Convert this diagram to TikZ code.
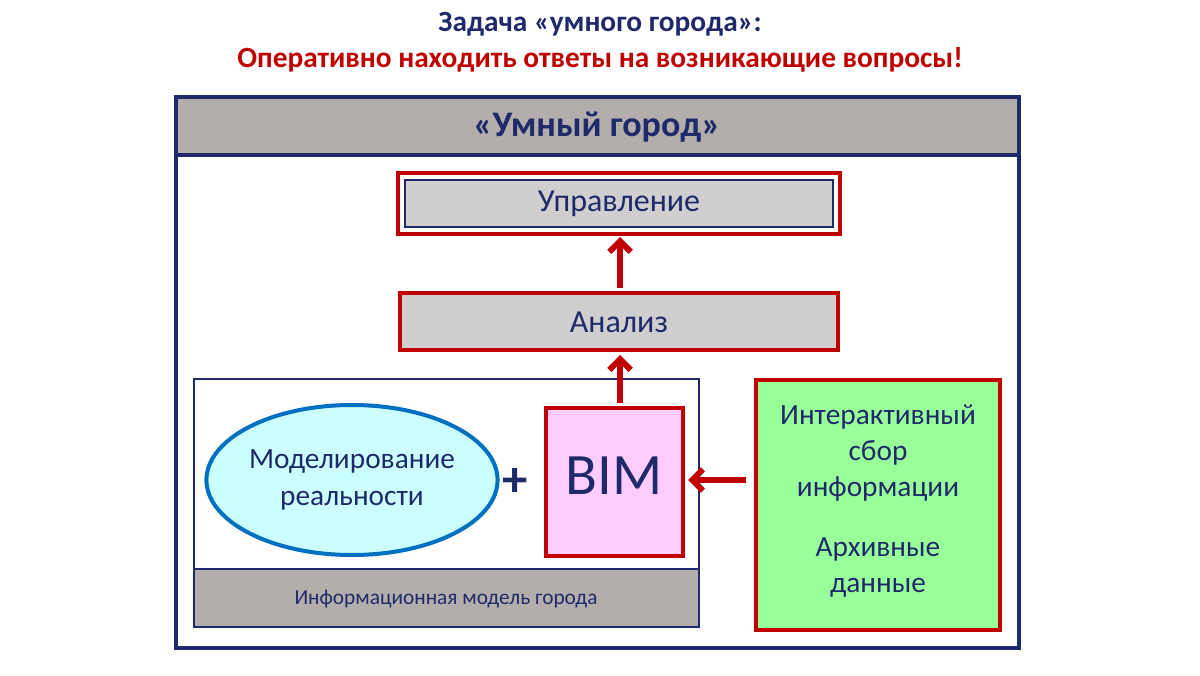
\documentclass[tikz,border=0pt]{standalone}
\usepackage{fontspec}
\setmainfont{Carlito}
\usetikzlibrary{arrows.meta,shapes.geometric}
\definecolor{navy}{HTML}{1F2A6B}
\definecolor{dred}{HTML}{C00000}
\definecolor{gr}{HTML}{B3AEAB}
\definecolor{lg}{HTML}{D0CECE}
\tikzset{
  redbox/.style={draw=dred,line width=3.5pt,fill=lg},
  arr/.style={draw=dred,line width=4.5pt,-{Straight Barb[length=8pt,width=16pt]}},
  txt/.style={text=navy,align=center,font=\fontsize{24}{28}\selectfont}
}
\begin{document}
\begin{tikzpicture}[x=0.75pt,y=-0.75pt]
\useasboundingbox (0,0) rectangle (1200,675);
\fill[white] (0,0) rectangle (1200,675);
\node[text=navy,font=\bfseries\fontsize{22}{26}\selectfont] (t1) at (600,24) {Задача «умного города»:};
\node[text=dred,font=\bfseries\fontsize{22}{26}\selectfont] (t2) at (600,60) {Оперативно находить ответы на возникающие вопросы!};
% outer frame
\draw[navy,line width=2.5pt] (176,97) rectangle (1019,648);
\filldraw[fill=gr,draw=navy,line width=2.5pt] (176,97) rectangle (1019,155);
\node[text=navy,font=\bfseries\fontsize{27}{30}\selectfont] (hd) at (597,127) {«Умный город»};
% Управление
\draw[dred,line width=3pt] (398,173) rectangle (840,234);
\filldraw[fill=lg,draw=navy,line width=1pt] (405,180) rectangle (833,227);
\node[txt] (upr) at (619,204) {Управление};
% Анализ
\draw[redbox] (400,293) rectangle (838,350);
\node[txt] (an) at (619,322) {Анализ};
\coordinate (anB) at (620,355);
\coordinate (anT) at (620,288);
\coordinate (upB) at (620,237);
\draw[arr] (anT) -- (upB);
% info model
\draw[navy,line width=1.5pt] (194,379) rectangle (699,627);
\filldraw[fill=gr,draw=navy,line width=1.5pt] (194,569) rectangle (699,627);
\node[text=navy,font=\fontsize{16}{18}\selectfont] (im) at (446,599) {Информационная модель города};
\node[ellipse,draw={rgb,255:red,0;green,112;blue,192},line width=3pt,fill={rgb,255:red,204;green,255;blue,255},minimum width=282pt*0.75,minimum height=150pt*0.75,inner sep=0pt,txt,font=\fontsize{22}{28}\selectfont] (el) at (352,480) {Моделирование\\реальности};
\node[text=navy,font=\bfseries\fontsize{38}{38}\selectfont] (pl) at (515,482) {+};
\filldraw[fill={rgb,255:red,255;green,204;blue,255},draw=dred,line width=3.5pt] (546,408) rectangle (683,556);
\node[text=navy,font=\fontsize{44}{46}\selectfont] (bim) at (614,476) {BIM};
\coordinate (bimT) at (620,403);
\draw[arr] (bimT) -- (anB);
% green
\filldraw[fill={rgb,255:red,153;green,255;blue,153},draw=dred,line width=3.5pt] (756,380) rectangle (1000,630);
\node[txt,font=\fontsize{22}{27}\selectfont] (g1) at (878,453) {Интерактивный\\сбор\\информации};
\node[txt,font=\fontsize{22}{27}\selectfont] (g2) at (878,567) {Архивные\\данные};
\coordinate (gL) at (746,480);
\coordinate (bR) at (688,480);
\draw[arr] (gL) -- (bR);
\end{tikzpicture}
\end{document}
